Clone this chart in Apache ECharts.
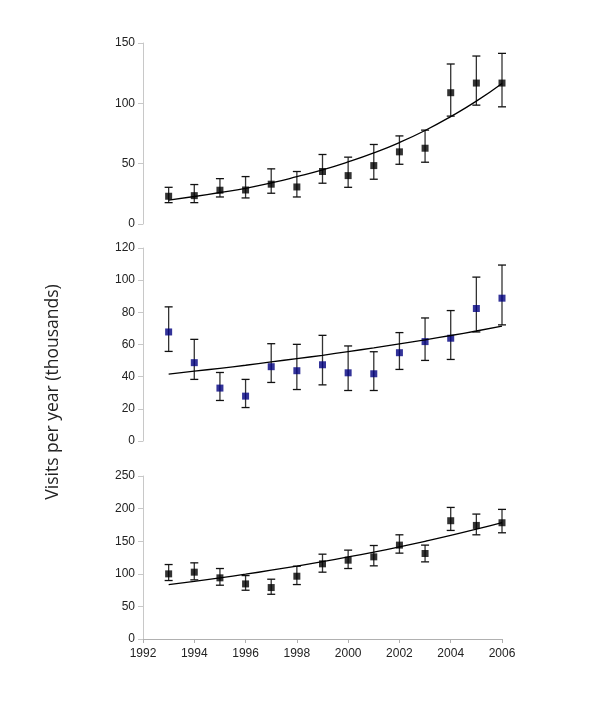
<!DOCTYPE html>
<html>
<head>
<meta charset="utf-8">
<script src="https://cdn.jsdelivr.net/npm/echarts@6/dist/echarts.min.js"></script>
<style>html,body{margin:0;padding:0;background:#fff}#c{width:600px;height:720px}</style>
</head>
<body>
<div id="c"></div>
<script>
var years = [1993,1994,1995,1996,1997,1998,1999,2000,2001,2002,2003,2004,2005,2006];
var xTicks = [1992,1994,1996,1998,2000,2002,2004,2006];

var topMean  = [23,23.5,28,28.2,33,30.7,43.5,40.1,48.4,59.8,62.8,108.8,116.8,116.8];
var topHigh  = [30.4,32.7,37.6,39.3,45.7,43.5,57.6,55.4,65.9,73,77.8,132.6,139.2,141.4];
var topLow   = [17.7,17.7,22.4,21.6,25.5,22.4,33.8,30.4,37.1,49.5,51.2,89.4,98.5,97.1];
var topTrend = [19.7,22.8,26.1,29.6,34,39.2,44.8,51.4,58.9,67.5,77.5,89,101.8,116.5];

var midMean  = [67.8,48.7,32.9,27.9,46.2,43.7,47.4,42.4,41.8,54.9,61.8,63.9,82.4,88.8];
var midHigh  = [83.4,63.2,42.6,38.3,60.5,60.1,65.7,59.1,55.5,67.4,76.5,81.1,101.9,109.4];
var midLow   = [55.7,38.3,25.2,20.8,36.4,32.0,34.9,31.4,31.4,44.5,50.1,50.7,67.8,72.2];
var midTrend = [41.6,43.4,45.2,47.1,49.2,51.2,53.3,55.6,57.9,60.4,62.9,65.6,68.4,71.4];

var botMean  = [99.9,102.5,93.8,84.5,78.9,96.3,115.3,120.9,126,144,131.1,181.4,174.2,178.3];
var botHigh  = [114.2,116.8,108.1,97.3,91.7,111.7,130.1,136.3,143.4,159.8,144,201.8,191.6,198.8];
var botLow   = [89.7,90.7,82.5,74.8,68.6,83.5,102.5,108.1,112.2,131.7,118.3,166.5,159.8,162.9];
var botTrend = [83.5,88.5,93.8,99.4,105.5,111.8,118.6,125.8,133.3,141.3,149.8,158.8,168.4,178.6];

function pairs(v){ return years.map(function(y,i){ return [y, v[i]]; }); }
function errs(lo,hi){ return years.map(function(y,i){ return [y, lo[i], hi[i]]; }); }

function errSeries(idx, lo, hi){
  return {
    type:'custom', xAxisIndex:idx, yAxisIndex:idx, z:2,
    data: errs(lo,hi),
    renderItem: function(params, api){
      var a = api.coord([api.value(0), api.value(1)]);
      var b = api.coord([api.value(0), api.value(2)]);
      var w = 4;
      var st = {stroke:'#333', lineWidth:1.3};
      var cs = {stroke:'#111', lineWidth:1.3};
      return {type:'group', children:[
        {type:'line', shape:{x1:a[0],y1:a[1],x2:b[0],y2:b[1]}, style:st},
        {type:'line', shape:{x1:a[0]-w,y1:a[1],x2:a[0]+w,y2:a[1]}, style:cs},
        {type:'line', shape:{x1:b[0]-w,y1:b[1],x2:b[0]+w,y2:b[1]}, style:cs}
      ]};
    }
  };
}
function markSeries(idx, v, color){
  return {type:'scatter', xAxisIndex:idx, yAxisIndex:idx, z:3, symbol:'rect', symbolSize:7,
    itemStyle:{color:color}, data:pairs(v), silent:true};
}
function trendSeries(idx, v){
  return {type:'line', xAxisIndex:idx, yAxisIndex:idx, z:4, smooth:true, showSymbol:false, silent:true,
    lineStyle:{color:'#000', width:1.3}, data:pairs(v)};
}
function yAx(idx, max, interval){
  return {type:'value', gridIndex:idx, min:0, max:max, interval:interval,
    axisLine:{show:true, lineStyle:{color:'#c8c8c8'}},
    axisTick:{show:true, length:5, lineStyle:{color:'#c8c8c8'}},
    splitLine:{show:false},
    axisLabel:{color:'#222', fontFamily:'Liberation Sans', fontSize:12, margin:8}};
}
function xAx(idx, show){
  return {type:'value', gridIndex:idx, min:1992, max:2006, interval:2,
    axisLine:{show:show, onZero:false, lineStyle:{color:'#b0b0b0'}},
    axisTick:{show:show, length:4, lineStyle:{color:'#b0b0b0'}},
    splitLine:{show:false},
    axisLabel:{show:show, color:'#222', fontFamily:'Liberation Sans', fontSize:12, margin:9,
      formatter:function(v){ return xTicks.indexOf(v)>=0 ? String(v) : ''; }}};
}

var chart = echarts.init(document.getElementById('c'));
chart.setOption({
  animation:false,
  backgroundColor:'#fff',
  grid:[
    {left:143, right:98, top:43, height:181},
    {left:143, right:98, top:248, height:193},
    {left:143, right:98, top:476, height:163}
  ],
  xAxis:[xAx(0,false), xAx(1,false), xAx(2,true)],
  yAxis:[yAx(0,150,50), yAx(1,120,20), yAx(2,250,50)],
  graphic:[{type:'text', x:53, y:392, rotation:Math.PI/2,
    style:{text:'Visits per year (thousands)', fill:'#222', font:'17.5px "Open Sans"', textAlign:'center', textVerticalAlign:'middle'}}],
  series:[
    errSeries(0, topLow, topHigh), markSeries(0, topMean, '#000'), trendSeries(0, topTrend),
    errSeries(1, midLow, midHigh), markSeries(1, midMean, '#000080'), trendSeries(1, midTrend),
    errSeries(2, botLow, botHigh), markSeries(2, botMean, '#000'), trendSeries(2, botTrend)
  ]
});
</script>
</body>
</html>
